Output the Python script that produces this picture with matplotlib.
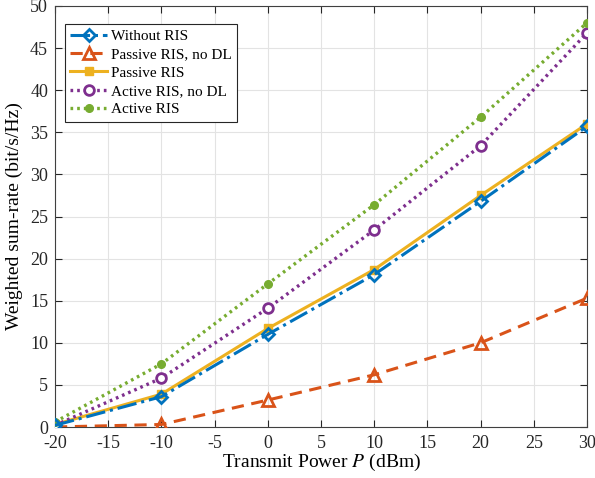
import numpy as np
import matplotlib as mpl
import matplotlib.pyplot as plt

mpl.rcParams['font.family'] = 'serif'
mpl.rcParams['font.serif'] = ['Liberation Serif', 'DejaVu Serif']
mpl.rcParams['mathtext.fontset'] = 'stix'
mpl.rcParams['axes.unicode_minus'] = False
mpl.rcParams['font.size'] = 13

# Data
power_dbm = [-20, -10, 0, 10, 20, 30]
without_ris = [0.2, 3.6, 11.0, 18.1, 26.8, 35.7]
passive_no_dl = [0.0, 0.3, 3.2, 6.2, 10.0, 15.3]
passive_ris = [0.3, 3.9, 11.7, 18.7, 27.5, 36.0]
active_no_dl = [0.2, 5.8, 14.1, 23.4, 33.4, 46.8]
active_ris = [0.6, 7.5, 17.0, 26.4, 36.8, 48.0]

fig = plt.figure(figsize=(5.95, 4.78), dpi=100)
ax = fig.add_axes([55 / 595, 1 - 427 / 478, 532 / 595, 421 / 478])

dotted = (0, (0.8, 1.2))
ax.plot(power_dbm, passive_ris, '-s', color='#EDB120', lw=2.2, ms=6,
        label='Passive RIS', zorder=3)
ax.plot(power_dbm, without_ris, linestyle='-.', marker='D', color='#0072BD', lw=2.2, ms=6,
        markerfacecolor='none', markeredgewidth=2, label='Without RIS', zorder=4)
ax.plot(power_dbm, passive_no_dl, linestyle='--', marker='^', color='#D95319', lw=2.2, ms=8,
        markerfacecolor='none', markeredgewidth=2, dashes=(4, 2.5),
        label='Passive RIS, no DL', zorder=3)
ax.plot(power_dbm, active_no_dl, linestyle=dotted, marker='o', color='#7E2F8E', lw=2.4, ms=7,
        markerfacecolor='white', markeredgewidth=2, label='Active RIS, no DL', zorder=3)
ax.plot(power_dbm, active_ris, linestyle=dotted, marker='o', color='#77AC30', lw=2.4, ms=5.5,
        label='Active RIS', zorder=3)

ax.set_xlim(-20, 30)
ax.set_ylim(0, 50)
ax.set_xticks(np.arange(-20, 31, 5))
ax.set_yticks(np.arange(0, 51, 5))
ax.grid(True, color='#e3e3e3', lw=0.8)
ax.set_axisbelow(True)
ax.tick_params(direction='in', top=True, right=True, length=5, labelsize=13,
               colors='#262626', pad=5)
ax.tick_params(axis='x', pad=6)
for spine in ax.spines.values():
    spine.set_color('#404040')
    spine.set_linewidth(0.8)

ax.set_xlabel(r'Transmit Power $P$ (dBm)', fontsize=14, labelpad=0)
ax.set_ylabel('Weighted sum-rate (bit/s/Hz)', fontsize=14, labelpad=5)

handles, labels = ax.get_legend_handles_labels()
order = [1, 2, 0, 3, 4]
leg = ax.legend([handles[i] for i in order], [labels[i] for i in order],
                loc='upper left', bbox_to_anchor=(0.019, 0.957), fontsize=11,
                fancybox=False, edgecolor='#262626', framealpha=1,
                handlelength=2.4, handletextpad=0.25, borderpad=0.35,
                labelspacing=0.3, borderaxespad=0)
leg.get_frame().set_linewidth(0.8)

fig.savefig('out.png', dpi=100)
